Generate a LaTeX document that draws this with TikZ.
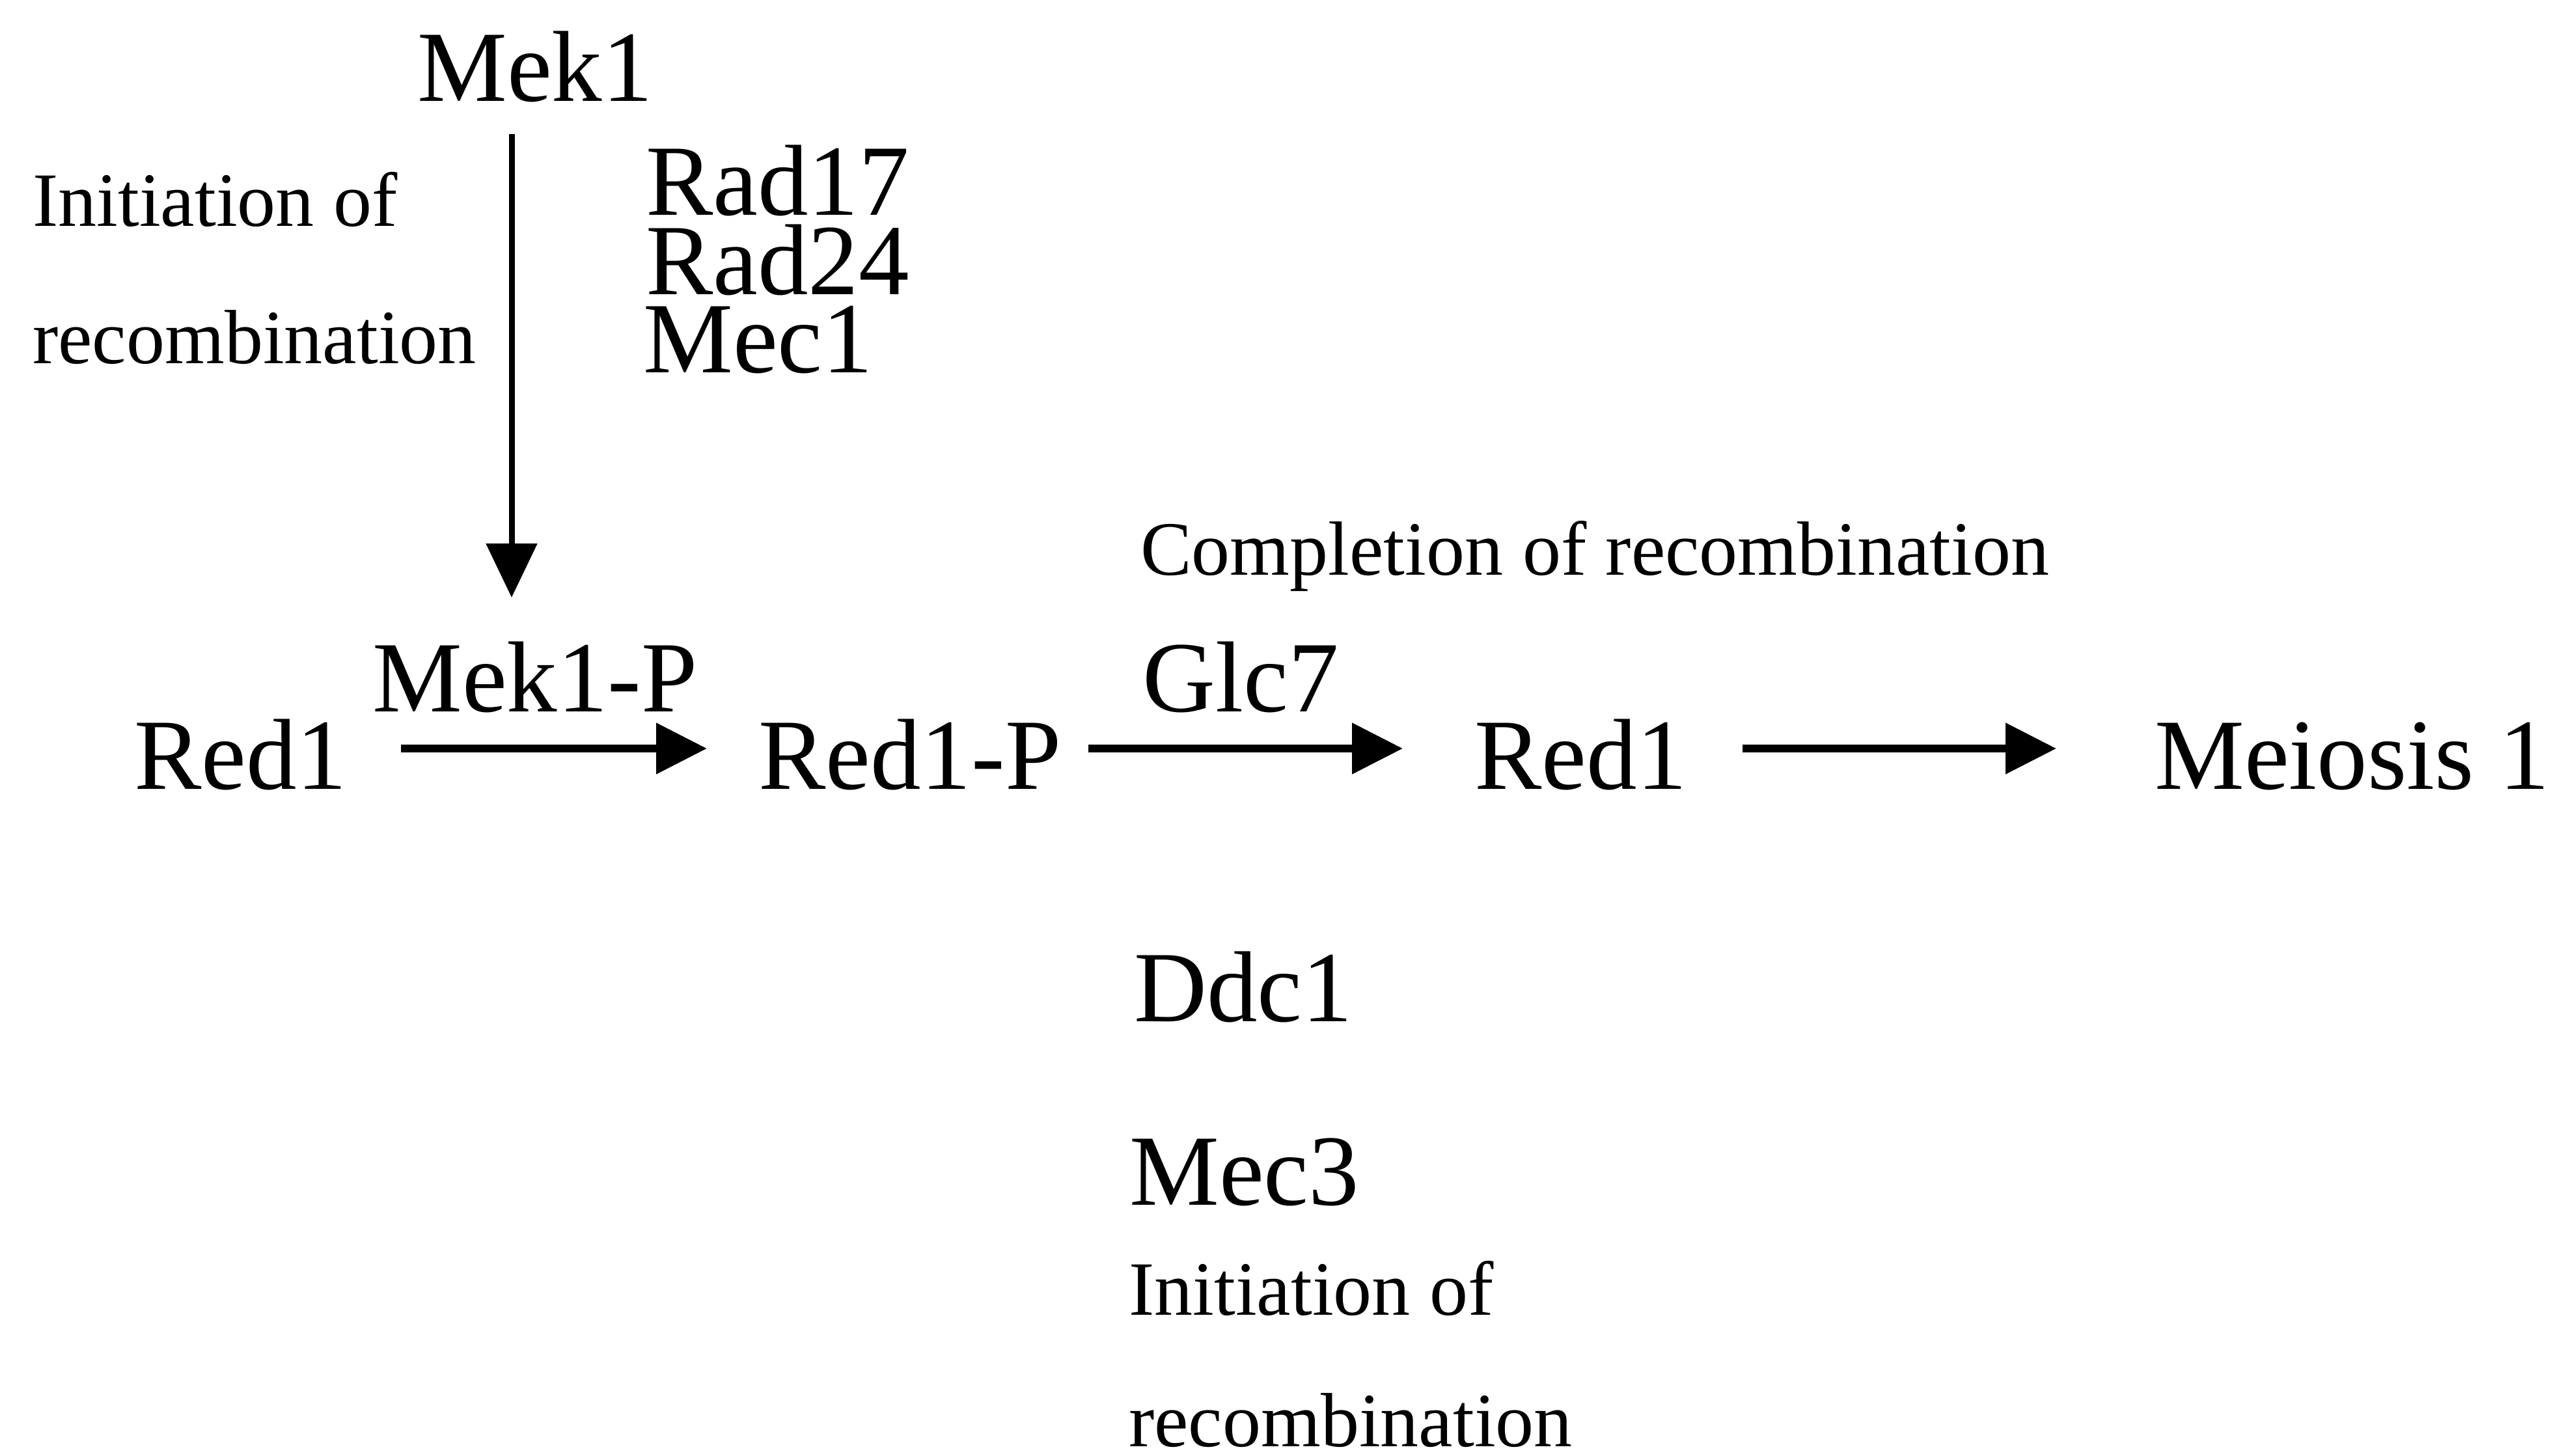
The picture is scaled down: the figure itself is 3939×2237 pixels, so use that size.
\documentclass[tikz,border=0pt]{standalone}
\usepackage{fontspec}
\setmainfont{Liberation Serif}
\usetikzlibrary{arrows.meta}
\tikzset{
  big/.style={anchor=base west, inner sep=0pt, font=\fontsize{155}{160}\selectfont},
  small/.style={anchor=base west, inner sep=0pt, font=\fontsize{118}{124}\selectfont},
  arr/.style={line width=12pt, -{Triangle[length=78pt,width=76pt]}},
  varr/.style={line width=9pt, -{Triangle[length=83pt,width=77pt]}}
}
\begin{document}
\begin{tikzpicture}[x=1pt,y=-1pt]
\useasboundingbox (0,0) rectangle (3939,2237);
% top
\node[big] (mek1) at (641,156) {Mek1};
\node[small] (init1) at (50,347) {Initiation of};
\node[small] (rec1) at (50,558) {recombination};
\node[big] (rad17) at (992,330) {Rad17};
\node[big] (rad24) at (992,452) {Rad24};
\node[big] (mec1) at (988,572) {Mec1};
\coordinate (vs) at (786,206);
\coordinate (ve) at (786,918);
\draw[varr] (vs) -- (ve);
% main row
\node[big] (red1) at (206,1212) {Red1};
\node[big] (mek1p) at (572,1093) {Mek1-P};
\node[big] (red1p) at (1165,1212) {Red1-P};
\node[big] (glc7) at (1755,1093) {Glc7};
\node[small] (compl) at (1752,883) {Completion of recombination};
\node[big] (red1b) at (2265,1212) {Red1};
\node[big] (meio) at (3310,1212) {Meiosis 1};
\coordinate (a1s) at (616,1150);
\coordinate (a1e) at (1086,1150);
\coordinate (a2s) at (1672,1150);
\coordinate (a2e) at (2155,1150);
\coordinate (a3s) at (2677,1150);
\coordinate (a3e) at (3159,1150);
\draw[arr] (a1s) -- (a1e);
\draw[arr] (a2s) -- (a2e);
\draw[arr] (a3s) -- (a3e);
% bottom
\node[big] (ddc1) at (1742,1569) {Ddc1};
\node[big] (mec3) at (1735,1851) {Mec3};
\node[small] (init2) at (1734,2020) {Initiation of};
\node[small] (rec2) at (1734,2222) {recombination};
\end{tikzpicture}
\end{document}
